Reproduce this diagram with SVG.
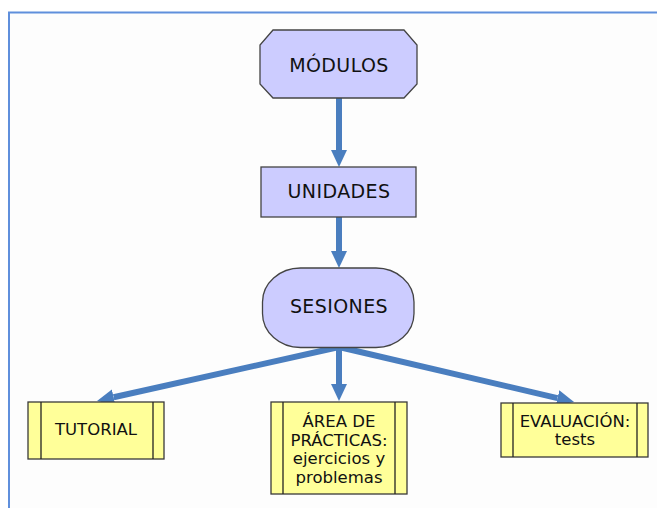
<svg xmlns="http://www.w3.org/2000/svg" width="657" height="508" viewBox="0 0 657 508">
<defs>
<style>
.bg{fill:#fdfdfd}
.frame{fill:none;stroke:#5f8fdc;stroke-width:2}
.blue{fill:#ccccff;stroke:#444;stroke-width:1.3}
.yel{fill:#ffff99;stroke:#3a3a3a;stroke-width:1.3}
.inner{stroke:#222;stroke-width:1.3}
.t1{font-family:"DejaVu Sans",Verdana,sans-serif;font-size:19px;fill:#111;text-anchor:middle;letter-spacing:0.4px}
.t2{font-family:"DejaVu Sans",Verdana,sans-serif;font-size:16.5px;fill:#111;text-anchor:middle}
.conn{stroke:#4a7ebf;stroke-width:6;fill:none;marker-end:url(#ah)}
</style>
<marker id="ah" markerUnits="userSpaceOnUse" markerWidth="18" markerHeight="18" refX="0" refY="8" orient="auto" viewBox="0 0 18 16">
<path d="M0,0 L17,8 L0,16 z" fill="#4a7ebf"/>
</marker>
</defs>
<rect class="bg" x="9" y="12" width="648" height="496"/>
<path class="frame" d="M9,508 V12.5 H657"/>
<g id="connectors">
<line class="conn" x1="339" y1="98" x2="339" y2="150"/>
<line class="conn" x1="339" y1="217" x2="339" y2="251"/>
<line class="conn" x1="339" y1="347" x2="113.6" y2="397.3"/>
<line class="conn" x1="339" y1="347" x2="339" y2="384"/>
<line class="conn" x1="339" y1="347" x2="557.5" y2="398.1"/>
</g>
<g id="modulos">
<polygon class="blue" points="273,30 404,30 417,45 417,84 404,98 273,98 260,84 260,45"/>
<text class="t1" x="339" y="72">MÓDULOS</text>
</g>
<g id="unidades">
<rect class="blue" x="261" y="167" width="155" height="50"/>
<text class="t1" x="339" y="198">UNIDADES</text>
</g>
<g id="sesiones">
<rect class="blue" x="262.5" y="268" width="151.5" height="79.5" rx="38" ry="34"/>
<text class="t1" x="339" y="313">SESIONES</text>
</g>
<g id="tutorial">
<rect class="yel" x="28" y="402" width="136" height="57"/>
<line class="inner" x1="41" y1="402" x2="41" y2="459"/>
<line class="inner" x1="153" y1="402" x2="153" y2="459"/>
<text class="t2" x="96" y="435">TUTORIAL</text>
</g>
<g id="practicas">
<rect class="yel" x="271" y="402" width="136" height="92"/>
<line class="inner" x1="283" y1="402" x2="283" y2="494"/>
<line class="inner" x1="395" y1="402" x2="395" y2="494"/>
<text class="t2" x="339" y="427">ÁREA DE</text>
<text class="t2" x="339" y="445.5">PRÁCTICAS:</text>
<text class="t2" x="339" y="464">ejercicios y</text>
<text class="t2" x="339" y="482.5">problemas</text>
</g>
<g id="evaluacion">
<rect class="yel" x="501" y="403" width="147" height="54"/>
<line class="inner" x1="513" y1="403" x2="513" y2="457"/>
<line class="inner" x1="637" y1="403" x2="637" y2="457"/>
<text class="t2" x="575" y="427">EVALUACIÓN:</text>
<text class="t2" x="575" y="445">tests</text>
</g>
</svg>
